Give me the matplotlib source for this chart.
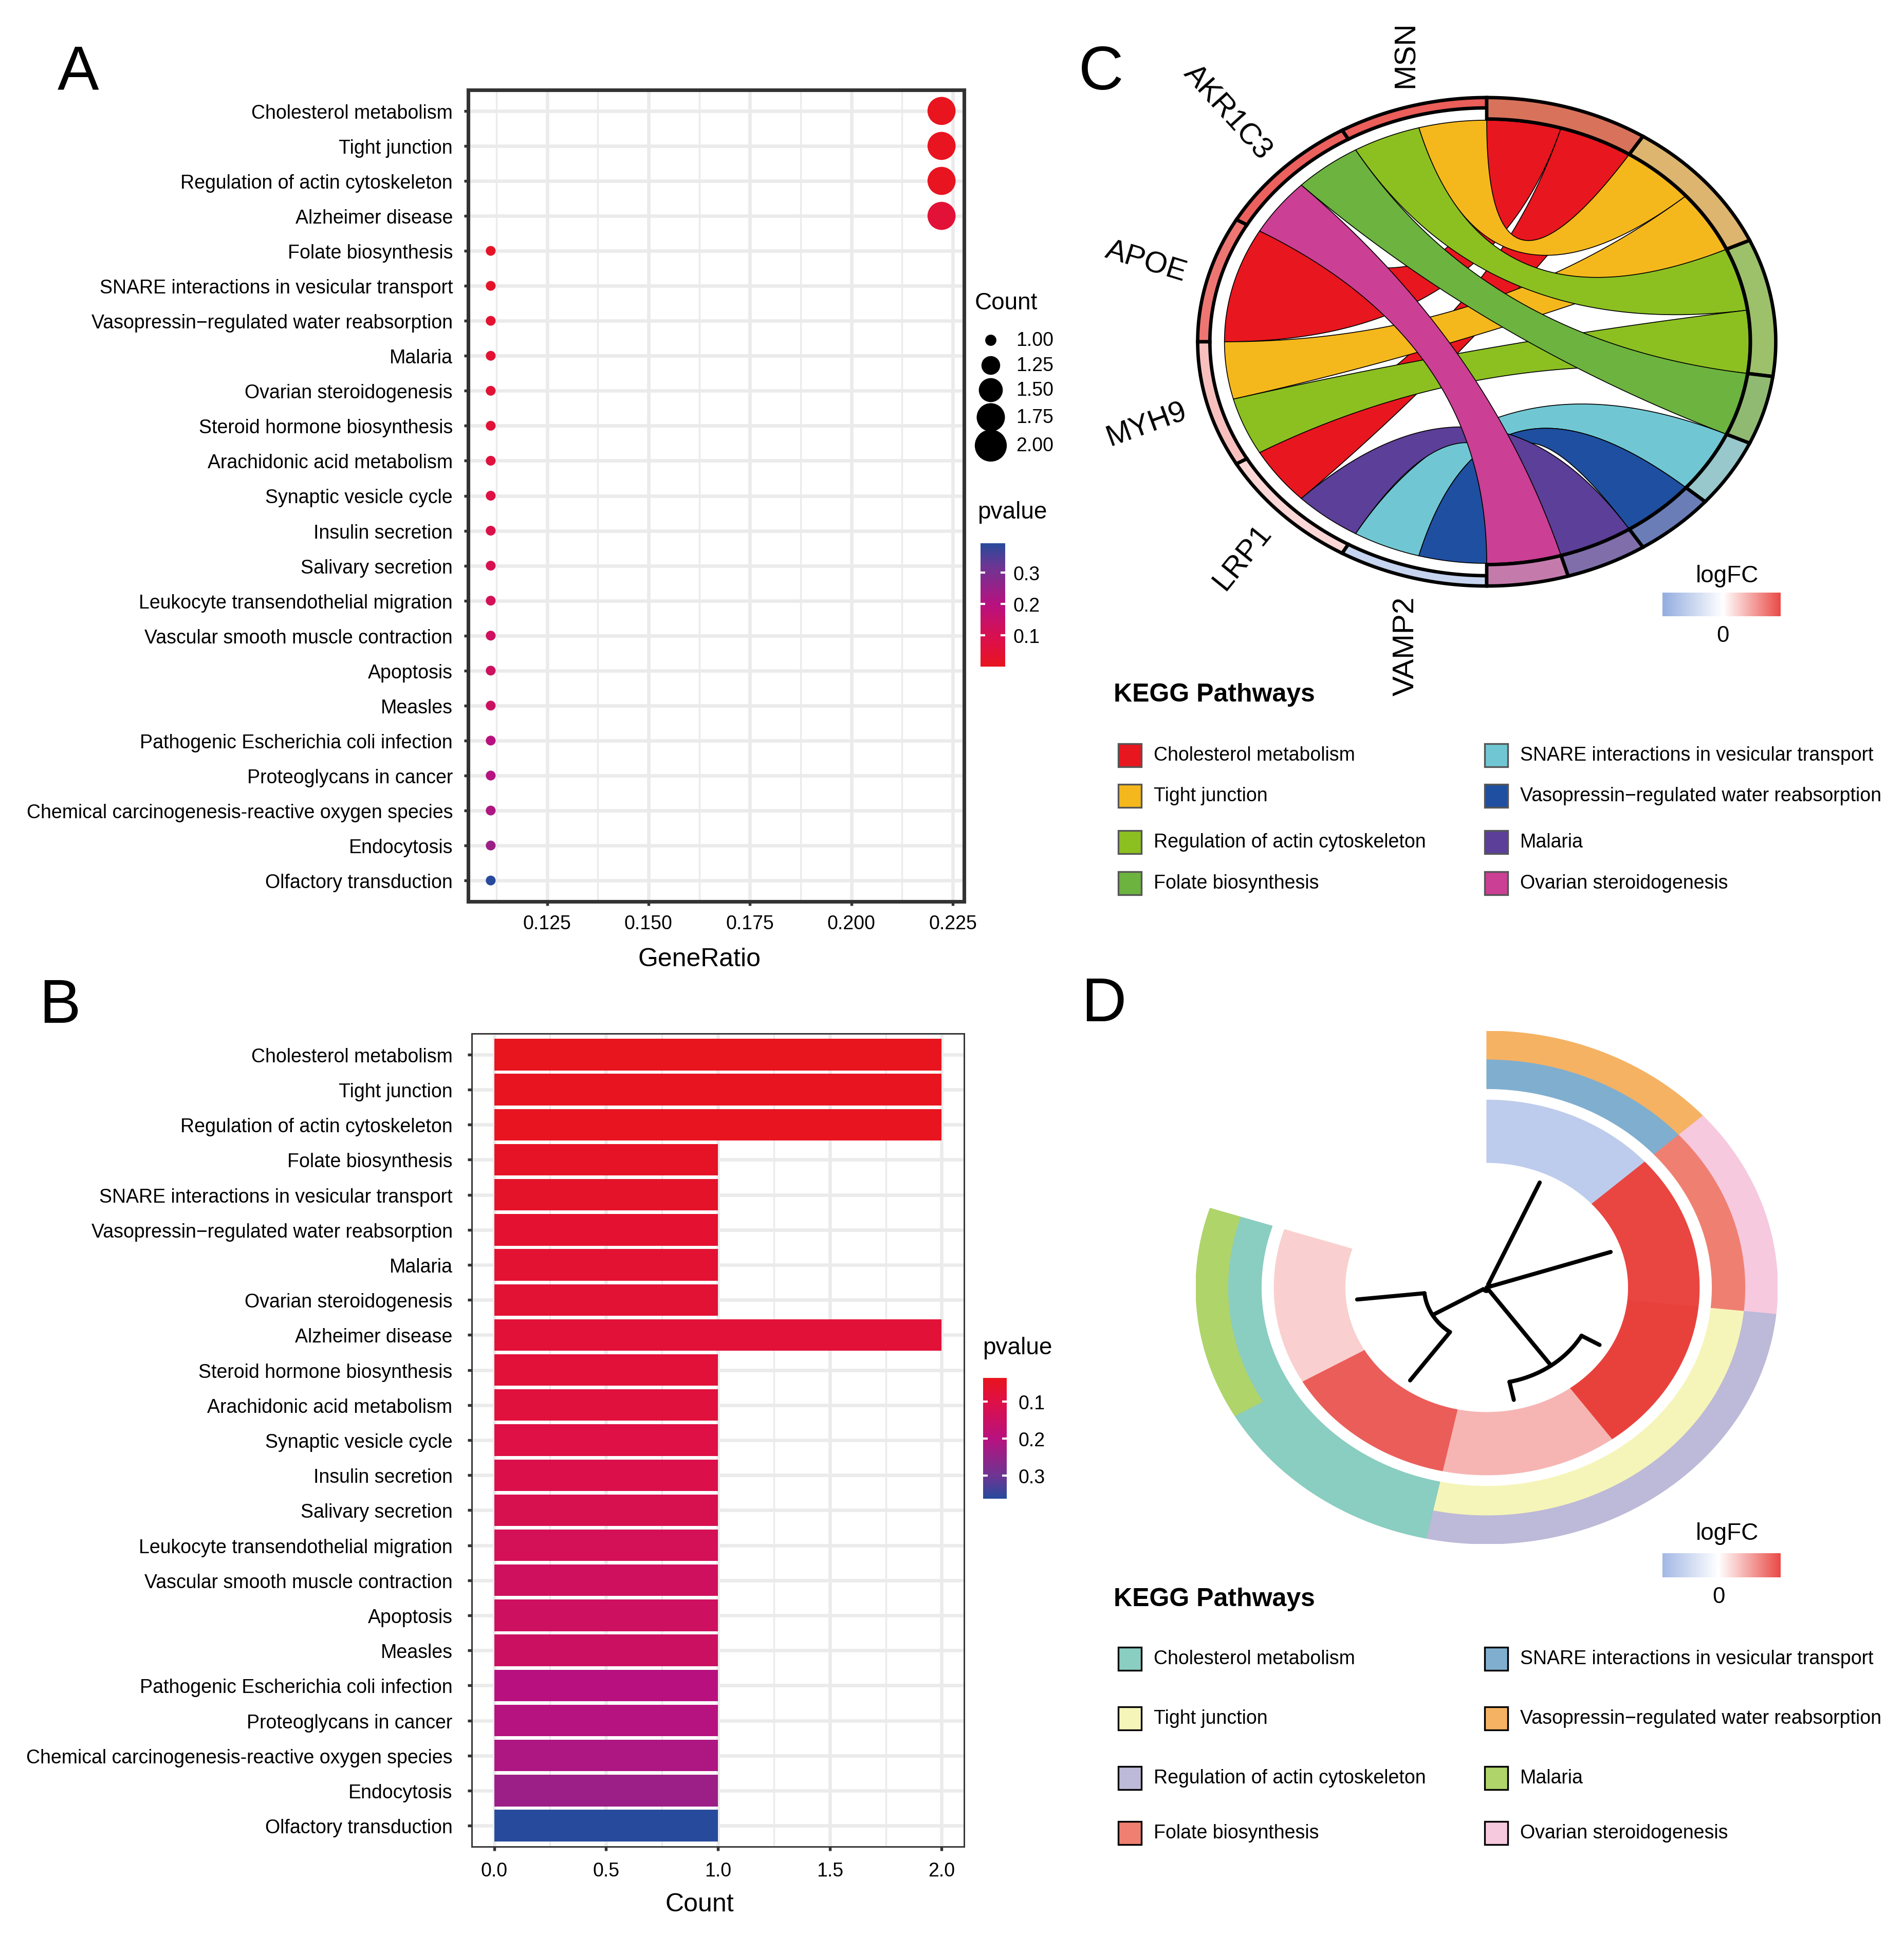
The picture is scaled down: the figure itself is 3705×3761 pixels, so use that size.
import numpy as np
import matplotlib
matplotlib.use("Agg")
import matplotlib.pyplot as plt
from matplotlib.colors import LinearSegmentedColormap, Normalize, to_rgb
from matplotlib.patches import Polygon, Rectangle
from matplotlib.cm import ScalarMappable
from matplotlib.ticker import FixedLocator

plt.rcParams["font.family"] = ["Liberation Sans", "DejaVu Sans"]

W, H, DPI = 3705, 3762, 300

# ---------------- data ----------------
pathways = [
    "Cholesterol metabolism",
    "Tight junction",
    "Regulation of actin cytoskeleton",
    "Folate biosynthesis",
    "SNARE interactions in vesicular transport",
    "Vasopressin\u2212regulated water reabsorption",
    "Malaria",
    "Ovarian steroidogenesis",
    "Alzheimer disease",
    "Steroid hormone biosynthesis",
    "Arachidonic acid metabolism",
    "Synaptic vesicle cycle",
    "Insulin secretion",
    "Salivary secretion",
    "Leukocyte transendothelial migration",
    "Vascular smooth muscle contraction",
    "Apoptosis",
    "Measles",
    "Pathogenic Escherichia coli infection",
    "Proteoglycans in cancer",
    "Chemical carcinogenesis-reactive oxygen species",
    "Endocytosis",
    "Olfactory transduction",
]
counts = [2, 2, 2, 1, 1, 1, 1, 1, 2, 1, 1, 1, 1, 1, 1, 1, 1, 1, 1, 1, 1, 1, 1]
pvalues = [0.037, 0.039, 0.040, 0.050, 0.057, 0.065, 0.070, 0.073, 0.078, 0.081,
           0.086, 0.099, 0.107, 0.118, 0.128, 0.142, 0.146, 0.149, 0.200, 0.203,
           0.213, 0.238, 0.362]
input_genes = 9

genes = ["MSN", "AKR1C3", "APOE", "MYH9", "LRP1", "VAMP2"]
gene_logfc = [2.10, 2.04, 1.78, 0.82, 0.52, -1.28]
kegg_terms = pathways[:8]
term_members = [["APOE", "LRP1"], ["MSN", "MYH9"], ["MSN", "MYH9"], ["AKR1C3"],
                ["VAMP2"], ["VAMP2"], ["LRP1"], ["AKR1C3"]]

cluster_order = ["VAMP2", "AKR1C3", "MSN", "MYH9", "APOE", "LRP1"]
# (height, left, right); height 0 = leaf, 1 = root
tree = (1.0, (0.97, "VAMP2", "AKR1C3"),
        (0.97, (0.16, "MSN", "MYH9"), (0.52, "APOE", "LRP1")))

# ---------------- styles ----------------
term_colors_c = ["#E8161E", "#F5B81C", "#8CC021", "#6CB33F",
                 "#70C7D3", "#1F4FA0", "#5C3F98", "#CB3F94"]
term_ring_c = ["#D9725A", "#DDB56E", "#9DC06A", "#90BA72",
               "#98C7CC", "#6A7DB6", "#7F6EAA", "#C47BAC"]
term_colors_d = ["#8ACDC1", "#F6F5B9", "#BDB9D8", "#EF8071",
                 "#80AECF", "#F5B263", "#AFD46A", "#F6C9DE"]
gene_label_rot = [90, -48, -17, 20, 51, 90]
gene_label_ha = ["left", "right", "right", "right", "right", "right"]

cmap_p = LinearSegmentedColormap.from_list(
    "pv", [(0, "#E8141E"), (0.194, "#DE1046"), (0.5, "#B8117F"),
           (0.81, "#6E3592"), (1, "#274A9C")])
cmap_lfc = LinearSegmentedColormap.from_list("lfc", ["#93ACE0", "#FFFFFF", "#E8413C"])
norm_lfc = Normalize(-2.1, 2.1)
norm_pb = Normalize(min(pvalues), max(pvalues))
norm_pa = Normalize(0.0, 0.393)

GRID = "#EBEBEB"
FS = 9


def rect(x0, y0, x1, y1):
    return [x0 / W, 1 - y1 / H, (x1 - x0) / W, (y1 - y0) / H]


fig = plt.figure(figsize=(W / DPI, H / DPI), dpi=DPI)
over = fig.add_axes([0, 0, 1, 1], zorder=-1)
over.set_xlim(0, W)
over.set_ylim(H, 0)
over.axis("off")

n = len(pathways)
pcols = [cmap_p(norm_pb(p)) for p in pvalues]


def size_of(c):
    return 21 + (c - 1) * (172 - 21)


# ---------------- panel A ----------------
ax_a = fig.add_axes(rect(911, 176, 1876, 1755))
order_a = sorted(range(n), key=lambda i: (-counts[i], pvalues[i]))
ratio = np.array(counts) / input_genes
ya = np.arange(n, 0, -1)
ax_a.scatter([ratio[i] for i in order_a], ya, s=[size_of(counts[i]) for i in order_a],
             c=[pcols[i] for i in order_a], linewidths=0, zorder=3)
lo, hi = ratio.min(), ratio.max()
pad = (hi - lo) * 0.05
ax_a.set_xlim(lo - pad, hi + pad)
ax_a.set_ylim(0.4, n + 0.6)
ax_a.set_yticks(ya)
ax_a.set_yticklabels([pathways[i] for i in order_a], fontsize=FS)
xt = [0.125, 0.150, 0.175, 0.200, 0.225]
ax_a.set_xticks(xt)
ax_a.set_xticklabels(["%.3f" % v for v in xt], fontsize=FS)
ax_a.xaxis.set_minor_locator(FixedLocator([0.1125, 0.1375, 0.1625, 0.1875, 0.2125]))
ax_a.set_axisbelow(True)
ax_a.grid(which="major", color=GRID, lw=1.6)
ax_a.grid(which="minor", axis="x", color=GRID, lw=0.8)
ax_a.tick_params(which="major", length=2, width=1.3, color="#333333", pad=5.2)
ax_a.tick_params(axis="x", pad=4)
ax_a.tick_params(which="minor", length=0)
for s in ax_a.spines.values():
    s.set_linewidth(1.7)
    s.set_color("#333333")

# ---------------- panel B ----------------
ax_b = fig.add_axes(rect(918, 2012, 1876, 3594))
yb = np.arange(n, 0, -1)
ax_b.barh(yb, counts, height=0.9, color=pcols, zorder=3)
ax_b.set_xlim(-0.05 * max(counts), max(counts) * 1.05)
ax_b.set_ylim(0.4, n + 0.6)
ax_b.set_yticks(yb)
ax_b.set_yticklabels(pathways, fontsize=FS)
xb = [0.0, 0.5, 1.0, 1.5, 2.0]
ax_b.set_xticks(xb)
ax_b.set_xticklabels(["%.1f" % v for v in xb], fontsize=FS)
ax_b.xaxis.set_minor_locator(FixedLocator([0.25, 0.75, 1.25, 1.75]))
ax_b.set_axisbelow(True)
ax_b.grid(which="major", color=GRID, lw=1.6)
ax_b.grid(which="minor", axis="x", color=GRID, lw=0.8)
ax_b.tick_params(which="major", length=2, width=1.3, color="#333333", pad=7)
ax_b.tick_params(axis="x", pad=5)
ax_b.tick_params(which="minor", length=0)
for s in ax_b.spines.values():
    s.set_linewidth(0.7)
    s.set_color("#333333")

# axis titles and panel letters
over.text(1361, 1867, "GeneRatio", fontsize=12, ha="center", va="center")
over.text(1361, 3706, "Count", fontsize=12, ha="center", va="center")
for lab, x, y in [("A", 152, 173), ("B", 116, 1990), ("C", 2143, 174), ("D", 2148, 1987)]:
    over.text(x, y, lab, fontsize=29, ha="center", va="baseline")

# ---------------- legends for A / B ----------------
over.text(1897, 590, "Count", fontsize=11, ha="left", va="center")
leg_counts = [1.00, 1.25, 1.50, 1.75, 2.00]
leg_y = [663, 712, 760, 813, 868]
over.scatter([1928] * 5, leg_y, s=[size_of(c) * 1.3 for c in leg_counts], c="black",
             linewidths=0)
for c, y in zip(leg_counts, leg_y):
    over.text(1977, y, "%.2f" % c, fontsize=FS, ha="left", va="center")


def pcolorbar(box, norm, title_xy, invert, pad):
    over.text(title_xy[0], title_xy[1], "pvalue", fontsize=11, ha="left", va="center")
    cax = fig.add_axes(rect(*box))
    cb = fig.colorbar(ScalarMappable(norm=norm, cmap=cmap_p), cax=cax)
    cb.outline.set_visible(False)
    cb.set_ticks([0.1, 0.2, 0.3])
    cb.set_ticklabels(["0.1", "0.2", "0.3"])
    cb.minorticks_off()
    cax.tick_params(direction="in", length=2.2, width=1.0, color="white",
                    left=True, right=True, labelleft=False, labelright=True,
                    labelsize=FS, pad=pad)
    if invert:
        cax.invert_yaxis()


pcolorbar((1908, 1058, 1956, 1298), norm_pa, (1902, 997), False, 3.8)
pcolorbar((1913, 2682, 1959, 2917), norm_pb, (1912, 2623), True, 5.5)

# ---------------- helpers for circular panels ----------------
def arc_pts(a0, a1, r, m=60):
    t = np.radians(np.linspace(a0, a1, m))
    return np.column_stack([r * np.cos(t), r * np.sin(t)])


def sector(ax, a0, a1, r0, r1, **kw):
    pts = np.vstack([arc_pts(a0, a1, r1), arc_pts(a1, a0, r0)])
    ax.add_patch(Polygon(pts, closed=True, **kw))


def bez(p0, p2, m=80):
    t = np.linspace(0, 1, m)[:, None]
    return (1 - t) ** 2 * p0 + t ** 2 * p2


def lighten(c, f):
    r, g, b = to_rgb(c)
    return (r + (1 - r) * f, g + (1 - g) * f, b + (1 - b) * f)


# ---------------- panel C : chord ----------------
ax_c = fig.add_axes(rect(2326, 187, 3460, 1145))
ax_c.set_xlim(-1, 1)
ax_c.set_ylim(-1, 1)
ax_c.axis("off")
R = 0.9
n_links = sum(len(m) for m in term_members)
unit = 180.0 / n_links
gspan = 180.0 / len(genes)

gene_sub = {}
for gi, g in enumerate(genes):
    links = [t for t in range(len(kegg_terms)) if g in term_members[t]]
    w = gspan / len(links)
    for j, t in enumerate(links):
        a = 90 + gspan * gi + j * w
        gene_sub[(g, t)] = (a, a + w)


def P(a):
    return R * np.array([np.cos(np.radians(a)), np.sin(np.radians(a))])


term_seg = []
cum = 0
for t, mem in enumerate(term_members):
    start = 90 - unit * cum
    term_seg.append((start, start - unit * len(mem)))
    for j, g in enumerate(sorted(mem, key=genes.index)):
        ta = start - j * unit
        tb = ta - unit
        ga, gb = gene_sub[(g, t)]
        pts = np.vstack([arc_pts(ga, gb, R), bez(P(gb), P(tb)),
                         arc_pts(tb, ta, R), bez(P(ta), P(ga))])
        ax_c.add_patch(Polygon(pts, closed=True, facecolor=term_colors_c[t],
                               edgecolor="black", lw=0.4, zorder=2))
    cum += len(mem)

for gi, g in enumerate(genes):
    a0 = 90 + gspan * gi
    col = lighten(cmap_lfc(norm_lfc(gene_logfc[gi])), 0.15)
    sector(ax_c, a0, a0 + gspan, 0.95, 0.992, facecolor=col, edgecolor="black",
           lw=1.6, zorder=3)
    am = np.radians(a0 + gspan / 2)
    ax_c.text(1.07 * np.cos(am), 1.07 * np.sin(am), g, fontsize=14,
              ha=gene_label_ha[gi], va="center", rotation=gene_label_rot[gi],
              rotation_mode="anchor")
for t, (s0, s1) in enumerate(term_seg):
    sector(ax_c, s1, s0, 0.905, 0.992, facecolor=term_ring_c[t], edgecolor="black",
           lw=1.6, zorder=3)

# ---------------- panel D : cluster ----------------
ax_d = fig.add_axes(rect(2327, 2007, 3459, 3005))
ax_d.set_xlim(-1, 1)
ax_d.set_ylim(-1, 1)
ax_d.axis("off")
dspan = 288.0 / len(cluster_order)
leaf_ang = {}
for i, g in enumerate(cluster_order):
    a1 = 90 - dspan * i
    a0 = a1 - dspan
    leaf_ang[g] = (a0 + a1) / 2
    gi = genes.index(g)
    col = cmap_lfc(norm_lfc(gene_logfc[gi]))
    sector(ax_d, a0, a1, 0.487, 0.731, facecolor=col, edgecolor=col, lw=0.3)
    tl = [t for t in range(len(kegg_terms)) if g in term_members[t]]
    if len(tl) == 1:
        c = term_colors_d[tl[0]]
        sector(ax_d, a0, a1, 0.775, 1.0, facecolor=c, edgecolor=c, lw=0.3)
    else:
        for (r0, r1), t in zip([(0.775, 0.89), (0.89, 1.0)], tl):
            c = term_colors_d[t]
            sector(ax_d, a0, a1, r0, r1, facecolor=c, edgecolor=c, lw=0.3)

LEAF_R = 0.448


def dendro(node):
    if isinstance(node, str):
        return leaf_ang[node], LEAF_R
    h, left, right = node
    r = LEAF_R * (1 - h)
    kids = [dendro(left), dendro(right)]
    arc = arc_pts(kids[0][0], kids[1][0], r)
    ax_d.plot(arc[:, 0], arc[:, 1], color="black", lw=1.9, solid_capstyle="round")
    for a, rc in kids:
        ar = np.radians(a)
        ax_d.plot([r * np.cos(ar), rc * np.cos(ar)], [r * np.sin(ar), rc * np.sin(ar)],
                  color="black", lw=1.9, solid_capstyle="round")
    return (kids[0][0] + kids[1][0]) / 2, r


dendro(tree)

# ---------------- legends for C / D ----------------
def kegg_legend(title_y, rows_y, colors, edge):
    over.text(2167, title_y, "KEGG Pathways", fontsize=12, fontweight="bold",
              ha="left", va="center")
    for t, name in enumerate(kegg_terms):
        col, row = divmod(t, 4)
        sx = [2176, 2889][col]
        tx = [2245, 2958][col]
        y = rows_y[row]
        over.add_patch(Rectangle((sx, y - 22), 45, 45, facecolor=colors[t],
                                 edgecolor=edge, lw=0.8))
        over.text(tx, y, name, fontsize=FS, ha="left", va="center")


kegg_legend(1352, [1470, 1549, 1639, 1719], term_colors_c, "#555555")
kegg_legend(3112, [3228, 3344, 3460, 3567], term_colors_d, "black")


def lfc_bar(box, lo, hi, title_xy):
    over.text(title_xy[0], title_xy[1], "logFC", fontsize=11, ha="center", va="center")
    cax = fig.add_axes(rect(*box))
    cb = fig.colorbar(ScalarMappable(norm=norm_lfc, cmap=cmap_lfc), cax=cax,
                      orientation="horizontal", boundaries=np.linspace(lo, hi, 300))
    cb.outline.set_visible(False)
    cb.set_ticks([0])
    cb.set_ticklabels(["0"])
    cb.minorticks_off()
    cax.tick_params(direction="in", length=2, color="white", labelsize=10.5, pad=4)


lfc_bar((3235, 1154, 3465, 1200), -2.1, 2.0, (3361, 1121))
lfc_bar((3235, 3023, 3465, 3070), -1.8, 2.0, (3361, 2984))

fig.savefig("out.png", dpi=DPI)
